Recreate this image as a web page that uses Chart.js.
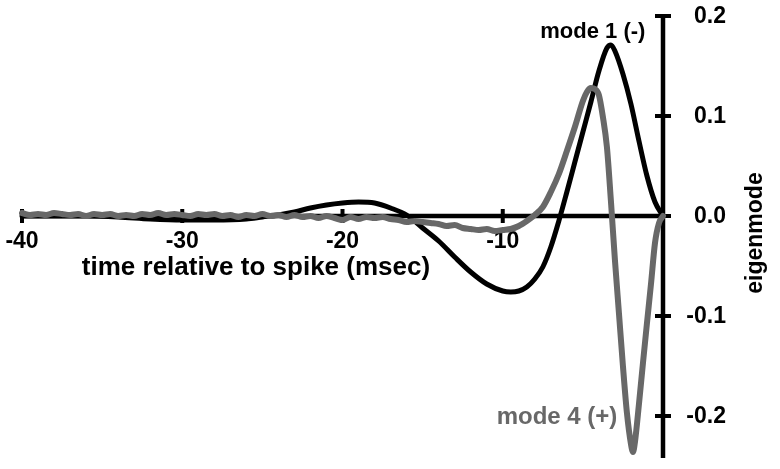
<!DOCTYPE html>
<html><head><meta charset="utf-8">
<script src="https://cdn.jsdelivr.net/npm/chart.js@4.4.1/dist/chart.umd.min.js"></script>
<style>html,body{margin:0;padding:0;background:#fff;}canvas{display:block}</style>
</head><body>
<canvas id="c" width="780" height="469"></canvas>
<script>
const xTicks = [-40, -30, -20, -10];
const yTicks = [0.2, 0.1, 0.0, -0.1, -0.2];
const xTitle = 'time relative to spike (msec)';
const yTitle = 'eigenmode';
const mode1Label = 'mode 1 (-)';
const mode4Label = 'mode 4 (+)';

const mode1Times = [-40,-38,-36,-34,-32,-30,-28,-26,-25,-24,-23,-22,-21,-20,-19,-18,-17,-16,-15,-14,-13,-12,-11,-10,-9.5,-9,-8.5,-8,-7.5,-7,-6.5,-6,-5.5,-5,-4.5,-4,-3.5,-3.25,-3,-2.5,-2,-1.5,-1,-0.5,0];
const mode1Values = [0,0,0,-0.001,-0.003,-0.004,-0.004,-0.003,-0.001,0.001,0.004,0.008,0.011,0.013,0.014,0.013,0.008,0.001,-0.012,-0.025,-0.041,-0.056,-0.068,-0.075,-0.076,-0.075,-0.071,-0.063,-0.051,-0.031,-0.005,0.024,0.054,0.084,0.114,0.145,0.168,0.171,0.165,0.142,0.112,0.075,0.040,0.014,0];

const mode4Times = [-40,-39.5,-39,-38.5,-38,-37.5,-37,-36.5,-36,-35.5,-35,-34.5,-34,-33.5,-33,-32.5,-32,-31.5,-31,-30.5,-30,-29.5,-29,-28.5,-28,-27.5,-27,-26.5,-26,-25.5,-25,-24.5,-24,-23.5,-23,-22.5,-22,-21.5,-21,-20.5,-20,-19.5,-19,-18.5,-18,-17.5,-17,-16.5,-16,-15.5,-15,-14.5,-14,-13.5,-13,-12.5,-12,-11.5,-11,-10.5,-10,-9.5,-9,-8.5,-8,-7.5,-7,-6.5,-6,-5.5,-5,-4.75,-4.5,-4.25,-4,-3.75,-3.5,-3.25,-3,-2.75,-2.5,-2.25,-2,-1.875,-1.75,-1.5,-1.25,-1,-0.75,-0.5,-0.25,0];
const mode4Values = [0.003,0.001,0.002,0.001,0.003,0.002,0.001,0.002,0.000,0.002,0.001,0.002,0.000,0.001,0.000,0.002,0.001,0.003,0.001,0.002,0.001,0.000,0.002,0.001,0.002,0.000,0.001,-0.001,0.001,0.000,0.002,0.000,0.001,-0.001,0.001,-0.001,0.000,-0.002,0.000,-0.002,-0.004,-0.001,-0.003,-0.001,-0.002,-0.001,-0.003,-0.004,-0.006,-0.005,-0.006,-0.007,-0.008,-0.010,-0.009,-0.012,-0.013,-0.014,-0.013,-0.015,-0.014,-0.013,-0.010,-0.005,0.001,0.009,0.024,0.042,0.065,0.089,0.115,0.124,0.128,0.127,0.121,0.099,0.069,0.015,-0.044,-0.097,-0.150,-0.197,-0.228,-0.236,-0.226,-0.188,-0.147,-0.107,-0.068,-0.027,-0.007,0];

const toPoints = (xs, ys) => xs.map((x, i) => ({x: x, y: ys[i]}));
const FONT = '"Liberation Sans", Arial, Helvetica, sans-serif';

const axesPlugin = {
  id: 'crossAxes',
  beforeDatasetsDraw(chart) {
    const ctx = chart.ctx;
    const xs = chart.scales.x, ys = chart.scales.y;
    const x0 = xs.getPixelForValue(0);
    const y0 = ys.getPixelForValue(0);
    ctx.save();
    ctx.strokeStyle = '#000';
    ctx.fillStyle = '#000';
    ctx.lineWidth = 4.5;
    ctx.lineCap = 'butt';
    ctx.beginPath();
    ctx.moveTo(xs.getPixelForValue(xs.min), y0);
    ctx.lineTo(x0, y0);
    ctx.stroke();
    ctx.beginPath();
    ctx.moveTo(x0, ys.getPixelForValue(ys.max) - 2);
    ctx.lineTo(x0, ys.getPixelForValue(ys.min));
    ctx.stroke();
    ctx.lineWidth = 4;
    xTicks.forEach(t => {
      const px = xs.getPixelForValue(t);
      ctx.beginPath();
      ctx.moveTo(px, y0 - 7);
      ctx.lineTo(px, y0 + 7);
      ctx.stroke();
    });
    yTicks.forEach(t => {
      const py = ys.getPixelForValue(t);
      ctx.beginPath();
      ctx.moveTo(x0 - 8, py);
      ctx.lineTo(x0 + 8, py);
      ctx.stroke();
    });
    ctx.font = 'bold 23px ' + FONT;
    ctx.textAlign = 'center';
    ctx.textBaseline = 'alphabetic';
    xTicks.forEach(t => {
      ctx.fillText(String(t), xs.getPixelForValue(t), y0 + 32);
    });
    ctx.textAlign = 'right';
    ctx.textBaseline = 'middle';
    yTicks.forEach(t => {
      ctx.fillText(t.toFixed(1), x0 + 63, ys.getPixelForValue(t) + 1);
    });
    ctx.font = 'bold 26px ' + FONT;
    ctx.textAlign = 'center';
    ctx.textBaseline = 'alphabetic';
    ctx.fillText(xTitle, xs.getPixelForValue(-25.4), y0 + 59);
    ctx.save();
    ctx.font = 'bold 23px ' + FONT;
    ctx.translate(x0 + 93, ys.getPixelForValue(-0.017));
    ctx.rotate(-Math.PI / 2);
    ctx.textAlign = 'center';
    ctx.textBaseline = 'middle';
    ctx.fillText(yTitle, 0, 0);
    ctx.restore();
    ctx.textAlign = 'right';
    ctx.textBaseline = 'alphabetic';
    ctx.font = 'bold 22px ' + FONT;
    ctx.fillStyle = '#000';
    ctx.fillText(mode1Label, xs.getPixelForValue(-1.1), ys.getPixelForValue(0.178));
    ctx.font = 'bold 24px ' + FONT;
    ctx.fillStyle = '#686868';
    ctx.fillText(mode4Label, xs.getPixelForValue(-2.85), ys.getPixelForValue(-0.208));
    ctx.restore();
  }
};

new Chart(document.getElementById('c'), {
  type: 'line',
  data: {
    datasets: [
      {
        label: mode4Label,
        data: toPoints(mode4Times, mode4Values),
        borderColor: '#686868',
        borderWidth: 6,
        pointRadius: 0,
        cubicInterpolationMode: 'monotone',
        clip: false,
        borderCapStyle: 'round',
        borderJoinStyle: 'round'
      },
      {
        label: mode1Label,
        data: toPoints(mode1Times, mode1Values),
        borderColor: '#000',
        borderWidth: 5,
        pointRadius: 0,
        cubicInterpolationMode: 'monotone',
        clip: false,
        borderCapStyle: 'round',
        borderJoinStyle: 'round'
      }
    ]
  },
  options: {
    responsive: false,
    devicePixelRatio: 1,
    animation: false,
    layout: { padding: { left: 22, right: 117, top: 16, bottom: 11 } },
    plugins: { legend: { display: false }, tooltip: { enabled: false } },
    scales: {
      x: { type: 'linear', min: -40, max: 0, display: false },
      y: { type: 'linear', min: -0.242, max: 0.2, display: false }
    }
  },
  plugins: [axesPlugin]
});
</script>
</body></html>
